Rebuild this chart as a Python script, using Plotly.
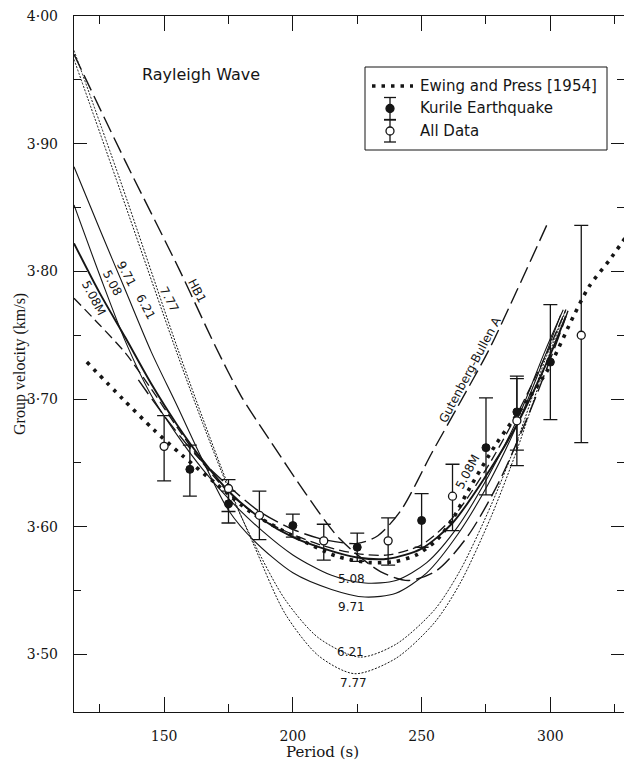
import plotly.graph_objects as go

# ---------------- data ----------------
# Ewing and Press [1954]
ewing_period = [120, 134, 146, 157, 170, 184, 200, 217, 230, 240, 248, 256, 262, 268, 279, 291, 299, 309, 315, 323, 329]
ewing_vel = [3.729, 3.700, 3.676, 3.656, 3.634, 3.611, 3.593, 3.577, 3.572, 3.573, 3.578, 3.590, 3.606, 3.628, 3.665, 3.699, 3.723, 3.765, 3.788, 3.809, 3.826]

# theoretical curves
p971 = [115, 125, 135, 145, 155, 165, 175, 185, 200, 215, 228, 240, 252, 264, 276, 288, 298, 304]
v971 = [3.882, 3.833, 3.785, 3.737, 3.695, 3.652, 3.613, 3.589, 3.564, 3.551, 3.545, 3.548, 3.564, 3.594, 3.634, 3.684, 3.734, 3.766]

p508 = [115, 125, 135, 145, 155, 165, 175, 188, 200, 215, 228, 240, 252, 264, 276, 288, 298, 305]
v508 = [3.852, 3.797, 3.745, 3.703, 3.672, 3.645, 3.622, 3.597, 3.578, 3.562, 3.556, 3.558, 3.572, 3.600, 3.640, 3.688, 3.738, 3.770]

pbold = [115, 125, 135, 145, 155, 165, 175, 188, 200, 212, 225, 237, 250, 262, 275, 287, 300, 306]
vbold = [3.822, 3.783, 3.748, 3.712, 3.680, 3.652, 3.628, 3.606, 3.592, 3.583, 3.576, 3.575, 3.583, 3.603, 3.640, 3.680, 3.735, 3.765]

p508m = [115, 125, 135, 145, 155, 165, 175, 188, 200, 212, 225, 237, 250, 262, 275, 287, 300, 306]
v508m = [3.779, 3.758, 3.736, 3.708, 3.678, 3.650, 3.627, 3.606, 3.594, 3.585, 3.579, 3.578, 3.586, 3.607, 3.645, 3.688, 3.742, 3.770]

phb1 = [115, 135, 156, 170, 180, 191, 205, 218, 234, 245, 256, 268, 280, 292, 302, 307]
vhb1 = [3.970, 3.886, 3.801, 3.741, 3.702, 3.668, 3.626, 3.591, 3.565, 3.558, 3.566, 3.593, 3.635, 3.690, 3.742, 3.770]

pgb = [140, 150, 162, 175, 187, 200, 212, 225, 233, 242, 254, 264, 276, 287, 299]
vgb = [3.715, 3.687, 3.657, 3.632, 3.612, 3.598, 3.590, 3.587, 3.593, 3.613, 3.658, 3.694, 3.738, 3.785, 3.838]

p777 = [115, 133, 155, 165, 175, 185, 197, 210, 224, 240, 255, 265, 277, 287, 298, 306]
v777 = [3.973, 3.871, 3.741, 3.685, 3.632, 3.585, 3.532, 3.499, 3.485, 3.497, 3.525, 3.556, 3.608, 3.660, 3.726, 3.770]

p621 = [115, 133, 155, 165, 175, 185, 197, 210, 226, 240, 255, 265, 277, 287, 298, 306]
v621 = [3.966, 3.863, 3.736, 3.681, 3.630, 3.587, 3.543, 3.513, 3.498, 3.508, 3.535, 3.566, 3.617, 3.667, 3.731, 3.770]

# observations
kurile_period = [160, 175, 200, 225, 250, 275, 287, 300]
kurile_vel = [3.645, 3.618, 3.601, 3.584, 3.605, 3.662, 3.690, 3.729]
kurile_top = [3.664, 3.628, 3.610, 3.595, 3.626, 3.701, 3.716, 3.774]
kurile_bot = [3.624, 3.603, 3.592, 3.573, 3.584, 3.625, 3.660, 3.684]

all_period = [150, 175, 187, 212, 237, 262, 287, 312]
all_vel = [3.663, 3.630, 3.609, 3.589, 3.589, 3.624, 3.683, 3.750]
all_top = [3.687, 3.637, 3.628, 3.602, 3.607, 3.649, 3.718, 3.836]
all_bot = [3.636, 3.612, 3.590, 3.574, 3.570, 3.597, 3.648, 3.666]

legend_labels = ["Ewing and Press [1954]", "Kurile Earthquake", "All Data"]

y_ticks = [3.5, 3.6, 3.7, 3.8, 3.9, 4.0]
y_ticktext = ["3·50", "3·60", "3·70", "3·80", "3·90", "4·00"]
x_ticks = [150, 200, 250, 300]

INK = "#151515"
SANS = "DejaVu Sans, Arial, sans-serif"
SERIF = "DejaVu Serif, serif"

# plot-area geometry in pixels (for paper-space furniture)
L, R, T, B = 74, 624, 16, 712
def px(x):
    return (x - L) / (R - L)
def py(y):
    return (B - y) / (B - T)

fig = go.Figure()

def curve(p, v, dash, width):
    fig.add_trace(go.Scatter(x=p, y=v, mode="lines", showlegend=False,
                             line=dict(color=INK, width=width, dash=dash, shape="spline", smoothing=0.8),
                             hoverinfo="skip"))

curve(p971, v971, "solid", 1.1)
curve(p508, v508, "solid", 1.1)
curve(pbold, vbold, "solid", 1.9)
curve(p508m, v508m, "10px,5px", 1.3)
curve(phb1, vhb1, "17px,6px", 1.4)
curve(pgb, vgb, "17px,6px", 1.4)
curve(p777, v777, "2px,1.5px", 1.0)
curve(p621, v621, "2px,1.5px", 1.0)

EWING_DASH = "3.5px,6px"
fig.add_trace(go.Scatter(x=ewing_period, y=ewing_vel, mode="lines", showlegend=False,
                         line=dict(color=INK, width=3.6, dash=EWING_DASH, shape="spline", smoothing=0.8)))

def errs(v, top, bot):
    return [t - a for t, a in zip(top, v)], [a - b for a, b in zip(v, bot)]

up, dn = errs(kurile_vel, kurile_top, kurile_bot)
fig.add_trace(go.Scatter(x=kurile_period, y=kurile_vel, mode="markers", showlegend=False,
                         marker=dict(symbol="circle", size=8, color=INK, line=dict(color=INK, width=1)),
                         error_y=dict(type="data", symmetric=False, array=up, arrayminus=dn,
                                      color=INK, thickness=1.3, width=7)))
up, dn = errs(all_vel, all_top, all_bot)
fig.add_trace(go.Scatter(x=all_period, y=all_vel, mode="markers", showlegend=False,
                         marker=dict(symbol="circle", size=8, color="white", line=dict(color=INK, width=1.3)),
                         error_y=dict(type="data", symmetric=False, array=up, arrayminus=dn,
                                      color=INK, thickness=1.3, width=7)))

lab_font = dict(family=SANS, size=12, color=INK)
labels = [
    ("9.71", 135.4, 3.798, 62), ("5.08", 129.9, 3.791, 62), ("5.08M", 122.6, 3.779, 62),
    ("7.77", 152.2, 3.778, 62), ("6.21", 142.8, 3.772, 62), ("HB1", 162.9, 3.785, 62),
    ("5.08", 222.7, 3.559, 0), ("9.71", 222.7, 3.537, 0), ("6.21", 222.3, 3.502, 0),
    ("7.77", 223.4, 3.478, 0), ("5.08M", 267.8, 3.643, -62), ("Gutenberg-Bullen A", 268.7, 3.723, -62),
]
for t, x, y, a in labels:
    fig.add_annotation(x=x, y=y, text=t, showarrow=False, textangle=a, font=lab_font)

fig.add_annotation(x=164.2, y=3.954, text="Rayleigh Wave", showarrow=False,
                   font=dict(family=SANS, size=16, color=INK))

# ---------- legend (drawn as paper-space furniture) ----------
shapes = []
shapes.append(dict(type="rect", xref="paper", yref="paper", x0=px(365), x1=px(607), y0=py(150), y1=py(67),
                   line=dict(color=INK, width=1), fillcolor="white", layer="above"))
row_y = [86, 108.5, 131]
shapes.append(dict(type="line", xref="paper", yref="paper", x0=px(372), x1=px(413), y0=py(row_y[0]), y1=py(row_y[0]),
                   line=dict(color=INK, width=3.6, dash=EWING_DASH), layer="above"))
for ry, fill in [(row_y[1], INK), (row_y[2], "white")]:
    cx = 390
    shapes.append(dict(type="line", xref="paper", yref="paper", x0=px(cx), x1=px(cx), y0=py(ry - 11), y1=py(ry + 11),
                       line=dict(color=INK, width=1.3), layer="above"))
    for yy in (ry - 11, ry + 11):
        shapes.append(dict(type="line", xref="paper", yref="paper", x0=px(cx - 6), x1=px(cx + 6), y0=py(yy), y1=py(yy),
                           line=dict(color=INK, width=1.3), layer="above"))
    shapes.append(dict(type="circle", xref="paper", yref="paper", x0=px(cx - 4), x1=px(cx + 4),
                       y0=py(ry + 4), y1=py(ry - 4), fillcolor=fill, line=dict(color=INK, width=1.3), layer="above"))
for ry, txt in zip(row_y, legend_labels):
    fig.add_annotation(xref="paper", yref="paper", x=px(418), y=py(ry), text=txt, showarrow=False,
                       xanchor="left", yanchor="middle", font=dict(family=SANS, size=15, color=INK))

fig.update_xaxes(range=[115, 328.6], tickvals=x_ticks, ticks="inside", ticklen=15, tickwidth=1,
                 tickcolor=INK, showline=True, linecolor=INK, linewidth=1.4, mirror="ticks",
                 showgrid=False, zeroline=False, ticklabelstandoff=11,
                 minor=dict(dtick=25, tick0=100, ticks="inside", ticklen=8, tickcolor=INK, showgrid=False),
                 tickfont=dict(family=SERIF, size=14, color=INK))
fig.update_yaxes(range=[3.455, 4.0], tickvals=y_ticks, ticktext=y_ticktext, ticks="inside", ticklen=13,
                 tickwidth=1, tickcolor=INK, showline=True, linecolor=INK, linewidth=1.4, mirror="ticks",
                 showgrid=False, zeroline=False, ticklabelstandoff=12,
                 minor=dict(dtick=0.05, tick0=3.45, ticks="inside", ticklen=7, tickcolor=INK, showgrid=False),
                 tickfont=dict(family=SERIF, size=14, color=INK))

fig.add_annotation(xref="paper", yref="paper", x=px(322), y=py(752),
                   text="Period (s)", showarrow=False, yanchor="middle",
                   font=dict(family=SERIF, size=15, color=INK))
fig.add_annotation(xref="paper", yref="paper", x=px(20), y=0.5, textangle=-90,
                   text="Group velocity (km/s)", showarrow=False, xanchor="center",
                   font=dict(family="Liberation Serif, serif", size=16, color=INK))

fig.update_layout(
    width=624, height=760, margin=dict(l=L, r=624 - R, t=T, b=760 - B),
    paper_bgcolor="white", plot_bgcolor="white", showlegend=False,
    shapes=shapes,
)

fig.write_html("out.html")
